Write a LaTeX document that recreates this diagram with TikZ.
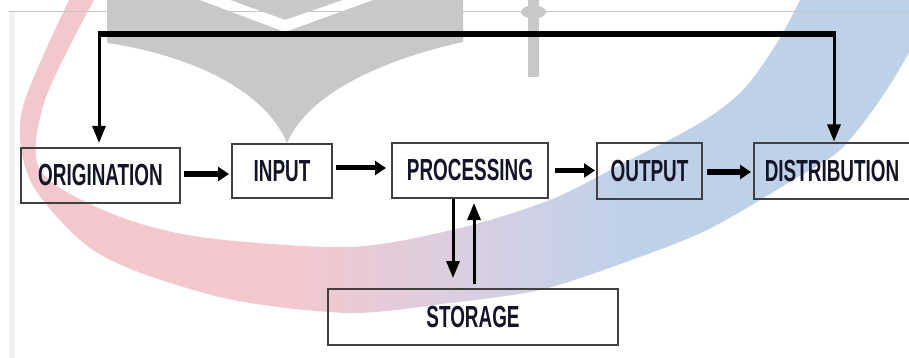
\documentclass[tikz,border=0pt]{standalone}
\usepackage{fontspec}
\newfontfamily\boxfont[FakeStretch=0.62]{Liberation Sans}
\usetikzlibrary{arrows.meta}
\definecolor{pinkc}{RGB}{243,200,205}
\definecolor{lavc}{RGB}{216,206,226}
\definecolor{bluec}{RGB}{191,209,233}
\definecolor{markgray}{RGB}{200,200,200}
\definecolor{boxline}{RGB}{64,64,64}
\definecolor{boxtext}{RGB}{20,20,40}
\pgfdeclarehorizontalshading{wmshade}{100bp}{color(0bp)=(pinkc); color(40bp)=(pinkc); color(50bp)=(lavc); color(58bp)=(bluec); color(100bp)=(bluec)}
\tikzset{
  blk/.style={draw=boxline, line width=2pt, inner sep=0pt, text=boxtext,
    font=\boxfont\bfseries\fontsize{30.5}{33}\selectfont},
  harrow/.style={line width=5pt, -{Triangle[length=11pt,width=14pt]}},
  varrow/.style={line width=3pt, -{Triangle[length=17pt,width=13pt]}},
  fbline/.style={line width=6pt},
}
\begin{document}
\begin{tikzpicture}[x=1pt,y=-1pt]
\useasboundingbox (0,0) rectangle (909,358);
% watermark
\begin{scope}
\clip (0,0) rectangle (909,358);
\shade[shading=wmshade]
  plot[smooth] coordinates {(70,-2) (22,110) (30,180) (80,240) (133,270) (233,300) (350,313) (450,303) (540,290) (623,263) (707,230) (793,180) (840,150) (880,100) (909,53) (925,25)}
  -- (930,-5) -- (800,-5)
  -- plot[smooth] coordinates {(800,0) (777,43) (743,90) (700,123) (620,165) (550,200) (460,228) (350,247) (200,237) (110,213) (40,170) (45,100) (95,-2)}
  -- cycle;
\fill[markgray] (107,0) -- (463,0) -- (463,42)
  .. controls (390,58) and (310,90) .. (287,143)
  .. controls (265,90) and (190,55) .. (107,43) -- cycle;
\fill[white] (200,0) -- (285,32) -- (373,0) -- (343,0) -- (285,20) -- (230,0) -- cycle;
\fill[markgray] (528,0) rectangle (539,77);
\fill[markgray] (533.5,12) ellipse [x radius=12.5, y radius=6.5];
\end{scope}
% frame
\fill[black!6] (9,11) rectangle (15,358);
\draw[black!22, line width=0.8pt] (9,11) -- (909,11);
% boxes
\node[blk, minimum width=159pt, minimum height=55pt] (orig) at (100.5,175.5) {ORIGINATION};
\node[blk, minimum width=100pt, minimum height=54pt] (input) at (282,171) {INPUT};
\node[blk, minimum width=156pt, minimum height=55pt] (proc) at (470,170.5) {PROCESSING};
\node[blk, minimum width=105pt, minimum height=55pt] (out) at (649.5,171) {OUTPUT};
\node[blk, minimum width=156pt, minimum height=55pt] (dist) at (832,171) {DISTRIBUTION};
\node[blk, minimum width=290pt, minimum height=56pt] (stor) at (473,317) {STORAGE};
% horizontal arrows
\draw[harrow, shorten <=3pt, shorten >=2pt] ([yshift=1.5pt]orig.east) -- ([yshift=1.5pt]orig.east -| input.west);
\draw[harrow, shorten <=3pt, shorten >=5pt] ([yshift=3pt]input.east) -- ([yshift=3pt]input.east -| proc.west);
\draw[harrow, shorten <=6pt, shorten >=1pt] ([yshift=0pt]proc.east) -- ([yshift=0pt]proc.east -| out.west);
\draw[harrow, shorten <=4pt, shorten >=2pt] ([yshift=-1pt]out.east) -- ([yshift=-1pt]out.east -| dist.west);
% feedback loop
\coordinate (fbl) at (99,34);
\coordinate (fbr) at (834,34);
\draw[fbline] ([xshift=-1.5pt]fbl) -- ([xshift=1.5pt]fbr);
\draw[varrow, shorten >=4pt] (fbl) -- (fbl |- orig.north);
\draw[varrow, shorten >=1pt] (fbr) -- (fbr |- dist.north);
% storage arrows
\draw[varrow, shorten >=10pt] ([xshift=-17pt]proc.south) -- ([xshift=-17pt]proc.south |- stor.north);
\draw[varrow, shorten <=4pt, shorten >=4pt] ([xshift=4pt]proc.south |- stor.north) -- ([xshift=4pt]proc.south);
\end{tikzpicture}
\end{document}
